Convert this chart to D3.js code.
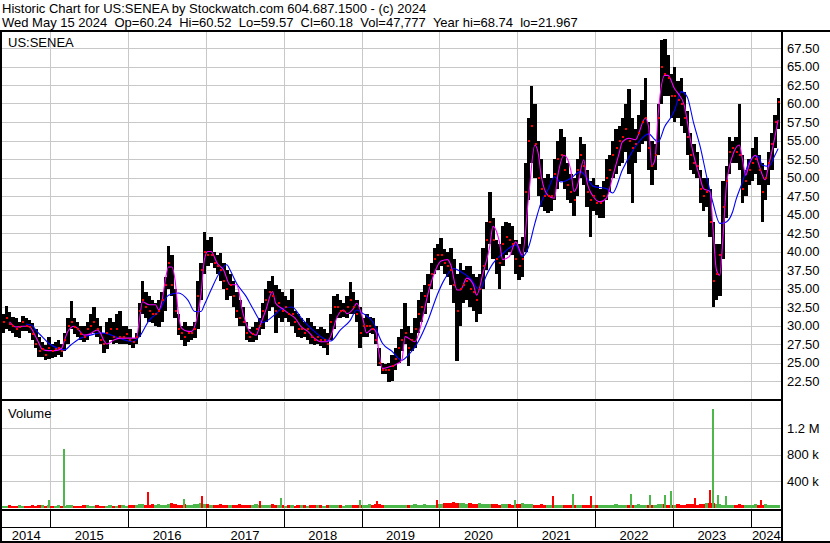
<!DOCTYPE html>
<html>
<head>
<meta charset="utf-8">
<script src="https://cdn.jsdelivr.net/npm/d3@7"></script>
<style>
  body { margin: 0; background: #fff; }
  svg { display: block; font-family: "Liberation Sans", Arial, sans-serif; }
</style>
</head>
<body>
<div id="chart"></div>
<script>
// ---- data (half-month periods, 16 May 2014 .. 15 May 2024) ----
var titleLine = "Historic Chart for US:SENEA by Stockwatch.com 604.687.1500 - (c) 2024";
var quoteLine = "Wed May 15 2024  Op=60.24  Hi=60.52  Lo=59.57  Cl=60.18  Vol=47,777  Year hi=68.74  lo=21.967";
var symbol = "US:SENEA";

var years = ["2014","2015","2016","2017","2018","2019","2020","2021","2022","2023","2024"];
var priceTicks = [22.5,25,27.5,30,32.5,35,37.5,40,42.5,45,47.5,50,52.5,55,57.5,60,62.5,65,67.5];
var volTicks = [400000, 800000, 1200000];
var volTickLabels = ["400 k", "800 k", "1.2 M"];

var high = [
  31.5,32.6,31.8,31.2,31.0,30.5,31.3,31.0,30.8,30.3,29.5,28.5,27.8,27.3,28.5,
  27.5,27.8,28.0,27.5,29.0,31.0,33.3,31.0,30.5,30.0,30.0,30.5,31.5,32.5,31.0,30.0,29.0,30.5,31.0,30.5,31.5,32.0,30.0,30.0,
  29.5,28.3,29.0,33.0,36.0,34.5,34.0,33.5,33.0,33.5,34.5,36.5,40.8,39.5,35.0,31.5,30.0,30.5,30.0,30.0,30.5,36.0,38.5,42.7,
  41.5,42.0,40.0,39.5,39.8,38.5,37.5,37.0,36.0,34.5,33.5,32.5,30.5,29.5,29.8,30.5,31.0,33.0,35.0,36.0,36.7,35.5,35.0,34.5,
  34.0,33.5,35.0,32.0,31.5,31.0,30.5,31.0,30.5,30.0,29.5,29.8,29.5,29.0,31.5,34.0,34.2,33.5,33.0,34.0,35.9,34.5,33.5,32.5,
  31.0,31.5,31.2,31.0,30.0,27.0,25.0,24.8,25.0,26.0,27.0,28.5,29.5,33.0,30.0,29.0,31.0,33.5,34.5,35.5,37.0,38.5,40.5,41.0,
  41.8,40.3,40.0,40.5,39.0,37.0,38.5,37.5,38.0,38.0,37.0,36.5,37.0,40.5,44.0,48.0,44.5,41.5,41.0,43.5,44.0,43.8,43.5,41.5,
  41.0,42.0,52.0,58.0,62.3,60.0,55.0,52.5,50.0,50.5,50.0,52.5,55.0,56.6,55.5,52.0,50.5,50.0,52.5,55.5,54.5,51.0,49.5,50.0,
  49.0,48.5,49.5,52.5,53.0,55.0,56.5,57.0,58.0,60.0,62.0,58.0,56.5,58.5,60.5,63.5,57.5,55.0,54.5,60.0,68.6,68.7,66.5,64.0,
  65.0,63.0,63.5,61.5,59.0,56.0,54.5,53.5,51.0,50.0,50.0,48.5,44.0,41.0,41.0,49.5,51.5,55.5,55.0,55.5,60.0,53.0,51.0,52.5,
  54.0,55.5,53.0,52.0,51.0,53.5,56.0,58.5,60.8
];
var low = [
  29.0,29.5,29.2,29.0,28.5,28.3,29.2,29.3,29.0,28.0,27.0,25.8,25.8,25.3,25.5,
  25.6,25.8,26.0,25.8,26.5,27.5,29.5,28.8,28.5,28.0,27.8,28.0,28.8,29.0,28.5,27.5,26.3,26.8,28.0,27.5,27.7,27.5,27.5,27.5,
  27.3,27.0,27.5,28.5,31.5,31.0,30.5,30.3,30.0,29.8,30.5,32.0,35.0,34.0,31.0,28.7,28.0,27.2,27.8,28.0,28.3,29.5,33.5,37.0,
  38.0,38.5,37.8,37.0,36.0,35.0,33.5,34.0,32.5,31.0,30.0,30.0,28.0,27.8,27.8,28.0,28.7,29.5,30.5,32.0,32.5,29.0,31.0,30.5,
  31.0,30.5,30.0,29.0,28.5,28.3,28.5,28.0,27.5,27.3,27.5,27.2,27.0,26.0,28.0,29.5,31.0,31.0,31.2,31.0,31.5,31.5,30.5,27.0,
  28.5,28.5,29.0,28.8,27.5,24.5,23.5,23.5,22.3,22.5,24.0,25.0,26.5,27.5,24.5,26.5,27.0,29.0,30.5,31.5,33.0,35.0,37.0,37.5,
  38.0,37.0,36.5,35.5,33.0,25.2,30.0,33.0,33.5,32.5,32.0,30.5,31.5,35.0,37.5,41.0,39.0,37.0,35.0,38.0,39.5,40.0,39.5,37.0,
  36.2,36.5,40.0,47.0,52.0,50.0,47.5,46.0,45.5,45.2,45.5,47.0,48.5,49.5,48.5,47.0,46.5,44.8,47.5,50.0,49.0,46.0,42.0,45.5,
  45.0,44.5,44.5,47.0,48.0,50.0,50.5,51.5,52.0,53.5,50.5,46.5,52.0,53.5,54.5,55.0,51.0,49.0,51.0,53.0,60.0,61.0,61.0,58.0,
  57.5,58.0,57.0,56.0,53.0,51.0,50.5,50.0,46.5,45.5,46.0,42.0,32.5,33.5,34.0,39.0,44.5,50.5,52.0,52.0,51.0,46.5,47.5,49.0,
  49.5,50.5,49.0,44.0,47.0,49.0,51.0,54.0,56.5
];
var close = [
  30.5,31.0,30.2,30.0,29.5,29.8,30.5,30.0,29.8,28.8,27.5,26.5,26.8,26.0,27.0,
  26.5,26.8,27.0,26.5,28.0,30.0,30.5,29.8,29.5,28.8,28.5,29.5,30.0,30.5,29.5,28.0,27.5,29.0,29.5,28.5,29.5,28.5,28.5,28.8,
  28.0,27.8,28.5,32.0,33.5,32.5,32.0,31.5,31.5,32.0,33.5,35.5,38.5,35.5,32.0,29.5,29.0,28.5,29.0,29.0,29.5,34.0,37.5,40.0,
  39.5,39.5,38.5,38.0,37.5,36.0,35.0,35.5,34.0,32.0,31.0,30.5,29.0,28.5,28.8,29.5,30.0,32.0,33.5,34.5,34.0,32.0,33.0,32.0,
  32.5,31.5,31.5,30.5,29.5,29.5,29.0,29.5,28.5,28.0,28.5,28.0,28.0,27.5,30.5,32.5,32.5,32.0,32.0,32.5,33.5,32.5,31.5,29.0,
  30.0,30.0,30.0,29.5,28.0,25.0,24.0,24.0,24.0,24.5,25.5,27.0,28.0,29.0,27.0,28.0,29.5,31.5,32.5,34.0,35.5,37.0,39.0,39.5,
  39.5,38.5,38.0,37.5,35.5,32.0,35.0,35.5,36.0,35.0,34.5,33.5,35.0,38.0,41.5,44.0,41.5,39.0,38.5,41.0,42.0,41.5,41.0,39.0,
  38.0,39.0,48.0,55.0,57.0,54.5,50.0,48.5,47.5,47.5,47.5,50.5,52.5,53.0,51.0,49.0,48.0,47.0,51.0,53.0,51.5,48.0,47.0,47.5,
  46.5,46.5,47.5,50.0,51.0,53.0,54.0,55.0,55.5,56.5,55.0,54.0,54.5,56.0,57.5,58.0,54.0,51.5,53.0,58.0,65.0,64.0,63.5,61.0,
  61.0,60.5,60.0,58.0,55.5,53.0,52.0,51.5,48.5,47.5,48.0,44.0,36.0,37.0,39.5,46.0,49.5,53.5,54.0,53.5,53.0,48.5,49.5,51.0,
  52.0,52.5,51.0,48.0,50.0,52.0,54.5,57.5,60.18
];
// typical daily volume in each period, thousands
var volume = [
  35,30,40,35,30,45,35,30,35,40,35,45,40,35,40,
  30,35,40,35,30,45,40,35,30,35,40,45,35,30,40,35,30,35,40,30,35,45,40,35,
  40,45,50,60,55,50,45,60,50,55,45,50,60,70,55,50,45,55,50,45,60,55,70,65,
  55,50,45,50,55,45,50,40,45,50,55,45,40,45,50,55,45,40,50,45,55,50,45,40,
  35,40,45,35,40,45,40,35,40,45,50,40,35,45,40,50,45,40,35,40,45,50,45,40,
  45,50,55,45,60,55,50,45,40,45,40,45,50,40,45,50,55,45,50,55,50,45,50,55,
  60,70,80,75,85,80,75,70,65,70,60,65,70,60,55,65,60,55,50,55,60,55,50,60,
  55,70,65,60,55,50,45,55,50,45,50,45,40,45,50,45,40,45,50,45,40,45,50,45,
  40,45,50,45,40,50,55,45,50,45,40,45,50,55,45,50,45,40,50,55,60,55,50,45,
  50,55,50,45,55,60,55,50,60,65,70,75,80,60,55,50,45,50,45,50,55,45,50,45,
  50,55,45,50,55,50,45,50,48
];
// single heavy days: date, volume (thousands), up day?
var volumeSpikes = [
  ["2014-12-19",120,true],["2015-03-03",884,true],["2016-03-30",240,false],["2016-09-13",135,true],
  ["2016-12-08",185,false],["2017-09-06",110,false],["2017-12-12",155,true],["2018-12-20",120,true],
  ["2019-03-09",110,false],["2019-12-15",120,false],["2020-12-14",120,true],["2021-06-13",185,false],
  ["2021-09-13",210,true],["2021-12-08",185,false],["2022-06-14",215,true],["2022-09-09",195,true],
  ["2022-11-20",190,true],["2022-12-17",255,true],["2023-04-08",145,false],["2023-06-21",270,false],
  ["2023-07-03",1480,true],["2023-07-27",190,true],["2023-09-02",175,true],["2024-02-14",120,false]
];
// moving averages: [period index, value]
var maShort = [[2,30.5],[4,29.8],[6,29.9],[8,29.9],[9,29.4],[10,28.5],[11,27.6],[12,26.8],[14,26.6],[16,26.6],[18,26.9],[19,28.0],[20,29.2],[22,29.9],[23,29.6],[25,28.7],[27,28.9],[29,29.4],[30,29.0],[31,28.0],[32,27.5],[34,28.0],[36,28.3],[39,28.3],[41,28.3],[42,30.7],[43,33.2],[45,32.8],[47,32.8],[48,32.1],[49,33.4],[50,36.1],[51,37.9],[52,37.9],[53,36.1],[54,31.6],[55,29.6],[57,29.2],[58,29.2],[60,31.6],[61,34.3],[62,38.9],[63,40.0],[64,40.0],[66,38.4],[68,37.5],[70,35.5],[72,35.5],[74,31.6],[76,29.2],[78,28.7],[79,29.8],[81,32.1],[83,34.6],[84,33.0],[86,32.3],[88,31.6],[90,31.0],[92,29.8],[94,29.2],[96,28.3],[98,27.8],[100,27.8],[101,28.5],[103,31.2],[105,32.1],[106,31.6],[108,32.3],[109,33.0],[111,30.7],[112,29.0],[114,29.6],[115,29.2],[116,26.2],[117,24.2],[119,24.4],[121,24.7],[123,25.3],[124,28.5],[126,28.0],[127,27.8],[129,30.3],[131,34.3],[133,37.1],[135,38.7],[137,38.9],[138,38.2],[140,34.8],[141,34.8],[143,36.4],[145,35.5],[146,34.1],[148,37.1],[150,40.7],[151,43.4],[153,41.3],[154,38.9],[156,39.3],[158,41.3],[160,39.5],[162,47.4],[164,54.4],[165,53.3],[166,50.1],[168,47.6],[170,47.2],[171,50.1],[173,53.0],[175,51.0],[176,48.1],[177,48.8],[179,52.4],[180,49.4],[182,47.4],[184,46.7],[186,47.2],[188,50.1],[190,53.3],[191,54.8],[193,55.3],[195,55.1],[198,58.0],[199,56.9],[200,51.6],[201,52.4],[202,58.7],[204,63.8],[205,63.8],[207,62.0],[208,61.4],[210,59.8],[212,55.1],[213,53.0],[215,49.9],[216,48.5],[218,48.1],[219,42.9],[220,37.5],[221,36.8],[222,42.0],[223,48.8],[225,53.0],[227,54.4],[228,52.4],[229,50.3],[230,51.7],[232,53.0],[233,51.7],[235,49.7],[236,51.5],[238,55.5],[239,57.8]];
var maLong = [[7,30.2],[9,30.0],[10,29.4],[12,28.5],[14,27.6],[17,26.9],[19,26.7],[21,27.4],[24,28.3],[27,28.7],[30,29.0],[32,28.9],[34,28.6],[37,28.1],[40,27.8],[42,28.5],[45,30.7],[48,31.9],[51,34.1],[54,34.4],[57,33.4],[59,31.9],[61,31.9],[62,32.8],[64,34.8],[67,37.3],[69,38.2],[70,37.5],[72,35.7],[75,33.9],[77,32.3],[80,30.4],[83,31.2],[86,32.3],[89,32.5],[92,31.0],[95,29.6],[98,28.5],[101,27.9],[104,29.4],[107,30.7],[109,32.1],[111,31.6],[114,30.5],[117,27.6],[120,26.5],[123,25.3],[125,26.0],[128,27.8],[131,30.7],[134,34.3],[136,36.2],[139,37.7],[141,37.3],[144,36.4],[147,34.8],[149,36.8],[151,38.4],[154,39.7],[158,40.9],[160,39.3],[162,40.6],[164,43.8],[166,46.7],[168,48.3],[170,50.1],[172,49.4],[175,49.9],[178,50.8],[180,49.9],[182,48.8],[186,48.5],[188,47.9],[191,51.0],[194,53.5],[197,55.3],[199,55.9],[201,55.1],[202,54.8],[204,56.9],[206,58.2],[207,59.1],[209,61.6],[211,60.9],[213,57.3],[215,54.2],[217,50.1],[219,46.5],[221,43.8],[223,44.0],[225,45.4],[226,47.0],[228,49.4],[230,52.1],[232,52.9],[233,52.8],[234,51.7],[236,51.5],[238,53.0],[239,53.9]];

// period boundaries: 16th and 1st of each month
function periodStart(i) {
  var m = 4 + Math.ceil(i / 2);
  return new Date(Date.UTC(2014, m, i % 2 === 0 ? 16 : 1));
}
var periods = d3.range(high.length).map(function (i) {
  return { i: i, start: periodStart(i), end: periodStart(i + 1),
           h: high[i], l: low[i], c: close[i], v: volume[i] * 1000,
           up: i === 0 ? true : close[i] >= close[i - 1] };
});

// ---- layout ----
var W = 830, H = 543;
var left = 2, axisX = 782;
var priceTop = 32, priceBottom = 400, volTop = 402, volBottom = 509;
var gridColor = "#c8c8c8", green = "#4cb84c", red = "#ff0000";

var x = d3.scaleUtc()
  .domain([new Date(Date.UTC(2014, 4, 15)), new Date(Date.UTC(2024, 4, 15))])
  .range([1.1, 779.5]);
var y = d3.scaleLinear().domain([22.5, 67.5]).range([381, 48]);
var yv = d3.scaleLinear().domain([0, 1200000]).range([508, 428]);

var svg = d3.select("#chart").append("svg").attr("width", W).attr("height", H);
svg.append("rect").attr("width", W).attr("height", H).attr("fill", "#fff");

// header (double spaces kept as in the original)
function keepSpaces(s) { return s.replace(/  /g, " \u00a0"); }
svg.append("text").attr("x", 2).attr("y", 13).attr("font-size", 13).text(titleLine);
svg.append("text").attr("x", 2).attr("y", 27).attr("font-size", 13).text(keepSpaces(quoteLine));

var yearStarts = years.slice(1).map(function (yr) { return new Date(Date.UTC(+yr, 0, 1)); });

// grids
var grid = svg.append("g").attr("stroke", gridColor).attr("stroke-width", 1).attr("shape-rendering", "crispEdges");
grid.selectAll(".hp").data(priceTicks).enter().append("line")
  .attr("x1", left).attr("x2", axisX).attr("y1", function (d) { return Math.round(y(d)) + 0.5; })
  .attr("y2", function (d) { return Math.round(y(d)) + 0.5; });
grid.selectAll(".hv").data(volTicks).enter().append("line")
  .attr("x1", left).attr("x2", axisX).attr("y1", function (d) { return Math.round(yv(d)) + 0.5; })
  .attr("y2", function (d) { return Math.round(yv(d)) + 0.5; });
yearStarts.forEach(function (d) {
  var xx = Math.round(x(d)) + 0.5;
  grid.append("line").attr("x1", xx).attr("x2", xx).attr("y1", priceTop).attr("y2", priceBottom);
  grid.append("line").attr("x1", xx).attr("x2", xx).attr("y1", volTop).attr("y2", volBottom);
});

// price bars
var bars = svg.append("g").attr("shape-rendering", "crispEdges");
bars.selectAll("rect").data(periods).enter().append("rect")
  .attr("x", function (d) { return x(d.start); })
  .attr("width", function (d) { return x(d.end) - x(d.start) + 0.3; })
  .attr("y", function (d) { return y(d.h); })
  .attr("height", function (d) { return y(d.l) - y(d.h); })
  .attr("fill", "#000");

// moving averages
function knotX(k) { var p = periods[k[0]]; return (x(p.start) + x(p.end)) / 2; }
var maLine = d3.line().x(knotX).y(function (k) { return y(k[1]); }).curve(d3.curveMonotoneX);
svg.append("path").attr("d", maLine(maLong)).attr("fill", "none").attr("stroke", "#0000ff").attr("stroke-width", 1.1);
svg.append("path").attr("d", maLine(maShort)).attr("fill", "none").attr("stroke", "#ff00ff").attr("stroke-width", 1.1);

// close ticks
svg.append("g").attr("shape-rendering", "crispEdges").selectAll("rect").data(periods).enter().append("rect")
  .attr("x", function (d) { return x(d.end) - 2; })
  .attr("y", function (d) { return y(d.c) - 1; })
  .attr("width", 2).attr("height", 2).attr("fill", red);

// volume
var vol = svg.append("g").attr("shape-rendering", "crispEdges");
vol.selectAll(".vb").data(periods).enter().append("rect")
  .attr("x", function (d) { return x(d.start); })
  .attr("width", function (d) { return x(d.end) - x(d.start); })
  .attr("y", function (d) { return yv(d.v); })
  .attr("height", function (d) { return yv(0) - yv(d.v); })
  .attr("fill", function (d) { return d.up ? green : red; });
vol.selectAll(".vs").data(volumeSpikes).enter().append("rect")
  .attr("x", function (d) { return Math.round(x(new Date(d[0] + "T00:00:00Z"))); })
  .attr("width", 1.5)
  .attr("y", function (d) { return yv(d[1] * 1000); })
  .attr("height", function (d) { return yv(0) - yv(d[1] * 1000); })
  .attr("fill", function (d) { return d[2] ? green : red; });

// labels inside panels
svg.append("text").attr("x", 8).attr("y", 47).attr("font-size", 13).text(symbol);
svg.append("text").attr("x", 8).attr("y", 418).attr("font-size", 13).text("Volume");

// right axes
var pa = svg.append("g").attr("transform", "translate(" + (axisX + 1) + ",0)")
  .call(d3.axisRight(y).tickValues(priceTicks).tickSize(0).tickPadding(4).tickFormat(d3.format(".2f")));
pa.select(".domain").remove();
pa.selectAll("text").attr("font-size", 13).attr("font-family", "Liberation Sans, Arial, sans-serif").attr("fill", "#000");
var va = svg.append("g").attr("transform", "translate(" + (axisX + 1) + ",0)")
  .call(d3.axisRight(yv).tickValues(volTicks).tickSize(0).tickPadding(4)
    .tickFormat(function (d, i) { return volTickLabels[i]; }));
va.select(".domain").remove();
va.selectAll("text").attr("font-size", 13).attr("font-family", "Liberation Sans, Arial, sans-serif").attr("fill", "#000");

// time axis
var xa = svg.append("g");
yearStarts.forEach(function (d) {
  var xx = Math.round(x(d)) + 0.5;
  xa.append("line").attr("x1", xx).attr("x2", xx).attr("y1", volBottom).attr("y2", 527)
    .attr("stroke", "#000").attr("shape-rendering", "crispEdges");
});
years.forEach(function (yr) {
  var a = Math.max(x(new Date(Date.UTC(+yr, 0, 1))), left);
  var b = Math.min(x(new Date(Date.UTC(+yr + 1, 0, 1))), axisX);
  xa.append("text").attr("x", (a + b) / 2).attr("y", 540).attr("font-size", 13)
    .attr("text-anchor", "middle").text(yr);
});

// frame
var frame = svg.append("g").attr("fill", "#000").attr("shape-rendering", "crispEdges");
frame.append("rect").attr("x", 0).attr("y", 30).attr("width", W).attr("height", 2);
frame.append("rect").attr("x", 0).attr("y", 30).attr("width", 2).attr("height", H - 30);
frame.append("rect").attr("x", axisX - 1).attr("y", 30).attr("width", 2).attr("height", H - 30);
frame.append("rect").attr("x", 0).attr("y", 399).attr("width", axisX + 1).attr("height", 2);
frame.append("rect").attr("x", 0).attr("y", 508.5).attr("width", axisX + 1).attr("height", 2);
frame.append("rect").attr("x", 0).attr("y", 526.5).attr("width", axisX + 1).attr("height", 1);
frame.append("rect").attr("x", 0).attr("y", 541).attr("width", W).attr("height", 2);
</script>
</body>
</html>
